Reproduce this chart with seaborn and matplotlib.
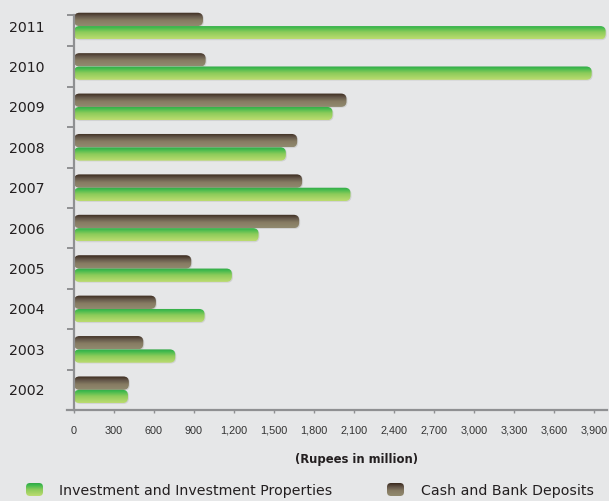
import numpy as np
import pandas as pd
import matplotlib
matplotlib.use("Agg")
import matplotlib.pyplot as plt
import seaborn as sns
from matplotlib.patches import FancyBboxPatch
from matplotlib.colors import LinearSegmentedColormap

# ---- data (Rupees in million) ----
years = ["2002", "2003", "2004", "2005", "2006", "2007", "2008", "2009", "2010", "2011"]
investment = [405, 760, 980, 1185, 1385, 2075, 1590, 1940, 3885, 3990]
cash = [412, 520, 615, 880, 1690, 1712, 1675, 2045, 988, 968]
series_names = ["Investment and Investment Properties", "Cash and Bank Deposits"]
x_ticks = list(range(0, 3901, 300))
x_tick_labels = [f"{v:,}" for v in x_ticks]
axis_title = "(Rupees in million)"

sns.set_theme(style="white")
plt.rcParams["font.family"] = ["DejaVu Sans"]

BG = "#e6e7e8"
TXT = "#231f20"
AXC = "#8f9092"
W, H = 609, 501

green_cmap = LinearSegmentedColormap.from_list(
    "green_grad", [(0.0, "#33a646"), (0.15, "#3db94d"), (0.5, "#8ccb5a"), (1.0, "#bcdc70")])
brown_cmap = LinearSegmentedColormap.from_list(
    "brown_grad", [(0.0, "#3a291d"), (0.3, "#64574a"), (0.6, "#877c63"), (1.0, "#918a6f")])

df = pd.DataFrame({
    "year": years * 2,
    "series": [series_names[0]] * len(years) + [series_names[1]] * len(years),
    "value": investment + cash,
})

fig = plt.figure(figsize=(W / 100, H / 100), dpi=100, facecolor=BG)
ax = fig.add_axes([74 / W, 91 / H, (607 - 74) / W, 410 / H])
ax.set_facecolor(BG)

order = years[::-1]
hue_order = [series_names[1], series_names[0]]  # cash sits above investment in each group
sns.barplot(data=df, x="value", y="year", hue="series", order=order, hue_order=hue_order,
            orient="h", width=0.66, palette=["#877c63", "#8ccb5a"], errorbar=None,
            legend=False, ax=ax)

XMAX = 4000
YTOP = -0.645
ax.set_xlim(0, XMAX)
ax.set_ylim(9.5, YTOP)

# pixel scale of data units
px_per_x = ax.get_position().width * W / XMAX
px_per_y = ax.get_position().height * H / (9.5 - YTOP)
aspect = px_per_x / px_per_y
radius_px = 5.5
r_x = radius_px / px_per_x

grad = np.linspace(0, 1, 64).reshape(-1, 1)

cmaps = [brown_cmap, green_cmap]
for cont, cmap in zip(ax.containers, cmaps):
    for rect in cont:
        x0, y0 = rect.get_x(), rect.get_y()
        w, h = rect.get_width(), rect.get_height()
        rect.set_visible(False)
        # soft drop shadow
        shadow = FancyBboxPatch((x0 + 1.0 / px_per_x, y0 + 0.8 / px_per_y), w, h,
                                boxstyle=f"round,pad=0,rounding_size={r_x}",
                                mutation_aspect=aspect, facecolor=(0, 0, 0, 0.09),
                                edgecolor="none", zorder=1.5, clip_on=False)
        ax.add_patch(shadow)
        clip = FancyBboxPatch((x0, y0), w, h,
                              boxstyle=f"round,pad=0,rounding_size={r_x}",
                              mutation_aspect=aspect, facecolor="none",
                              edgecolor="none", zorder=2, clip_on=False)
        ax.add_patch(clip)
        im = ax.imshow(grad, cmap=cmap, vmin=0, vmax=1, aspect="auto",
                       extent=(x0, x0 + w, y0 + h, y0), origin="upper",
                       interpolation="bilinear", zorder=2)
        im.set_clip_path(clip)

ax.set_xlim(0, XMAX)
ax.set_ylim(9.5, YTOP)

# spines
for s in ["top", "right"]:
    ax.spines[s].set_visible(False)
for s in ["left", "bottom"]:
    ax.spines[s].set_color(AXC)
    ax.spines[s].set_linewidth(1.6)
ax.spines["left"].set_bounds(9.5, YTOP + 15 / px_per_y)
ax.spines["bottom"].set_bounds(-7 / px_per_x, XMAX)
ax.spines["bottom"].set_clip_on(False)

# y ticks: year labels at centers, marks at group boundaries
ax.set_yticks(range(len(order)))
ax.set_yticklabels(order)
ax.set_yticks([YTOP + 15 / px_per_y] + [i + 0.5 for i in range(len(order) - 1)], minor=True)
ax.tick_params(axis="y", which="major", left=True, length=0, pad=21, labelsize=10.2,
               labelcolor=TXT)
ax.tick_params(axis="y", which="minor", left=True, length=5.2, width=1.4, color=AXC,
               direction="out")
ax.set_ylabel("")

ax.set_xticks(x_ticks)
ax.set_xticklabels(x_tick_labels)
ax.tick_params(axis="x", which="major", bottom=True, length=2.5, width=1, color=AXC, pad=9,
               labelsize=7.8, labelcolor="#333333")
for lbl in ax.get_xticklabels():
    lbl.set_fontfamily(["Liberation Sans", "DejaVu Sans"])
ax.set_xlabel("")

fig.text(357 / W, 1 - 459 / H, axis_title, ha="center", va="center",
         fontsize=8.4, fontweight="bold", color=TXT)

# legend: rounded gradient swatches and labels
legend_items = [(series_names[0], green_cmap, 26, 59), (series_names[1], brown_cmap, 387, 421)]
sw_w, sw_h, sw_top = 17, 13, 483
for name, cmap, sx, tx in legend_items:
    lax = fig.add_axes([sx / W, 1 - (sw_top + sw_h) / H, sw_w / W, sw_h / H])
    lax.set_axis_off()
    lax.set_xlim(0, 1)
    lax.set_ylim(0, 1)
    clip = FancyBboxPatch((0, 0), 1, 1, boxstyle=f"round,pad=0,rounding_size={4 / sw_w}",
                          mutation_aspect=sw_w / sw_h, facecolor="none", edgecolor="none",
                          transform=lax.transAxes)
    lax.add_patch(clip)
    im = lax.imshow(grad, cmap=cmap, vmin=0, vmax=1, aspect="auto",
                    extent=(0, 1, 0, 1), origin="upper", interpolation="bilinear")
    im.set_clip_path(clip)
    fig.text(tx / W, 1 - (sw_top + sw_h / 2 + 1) / H, name, ha="left", va="center",
             fontsize=10.2, color=TXT)

fig.savefig("out.png", dpi=100, facecolor=BG)
